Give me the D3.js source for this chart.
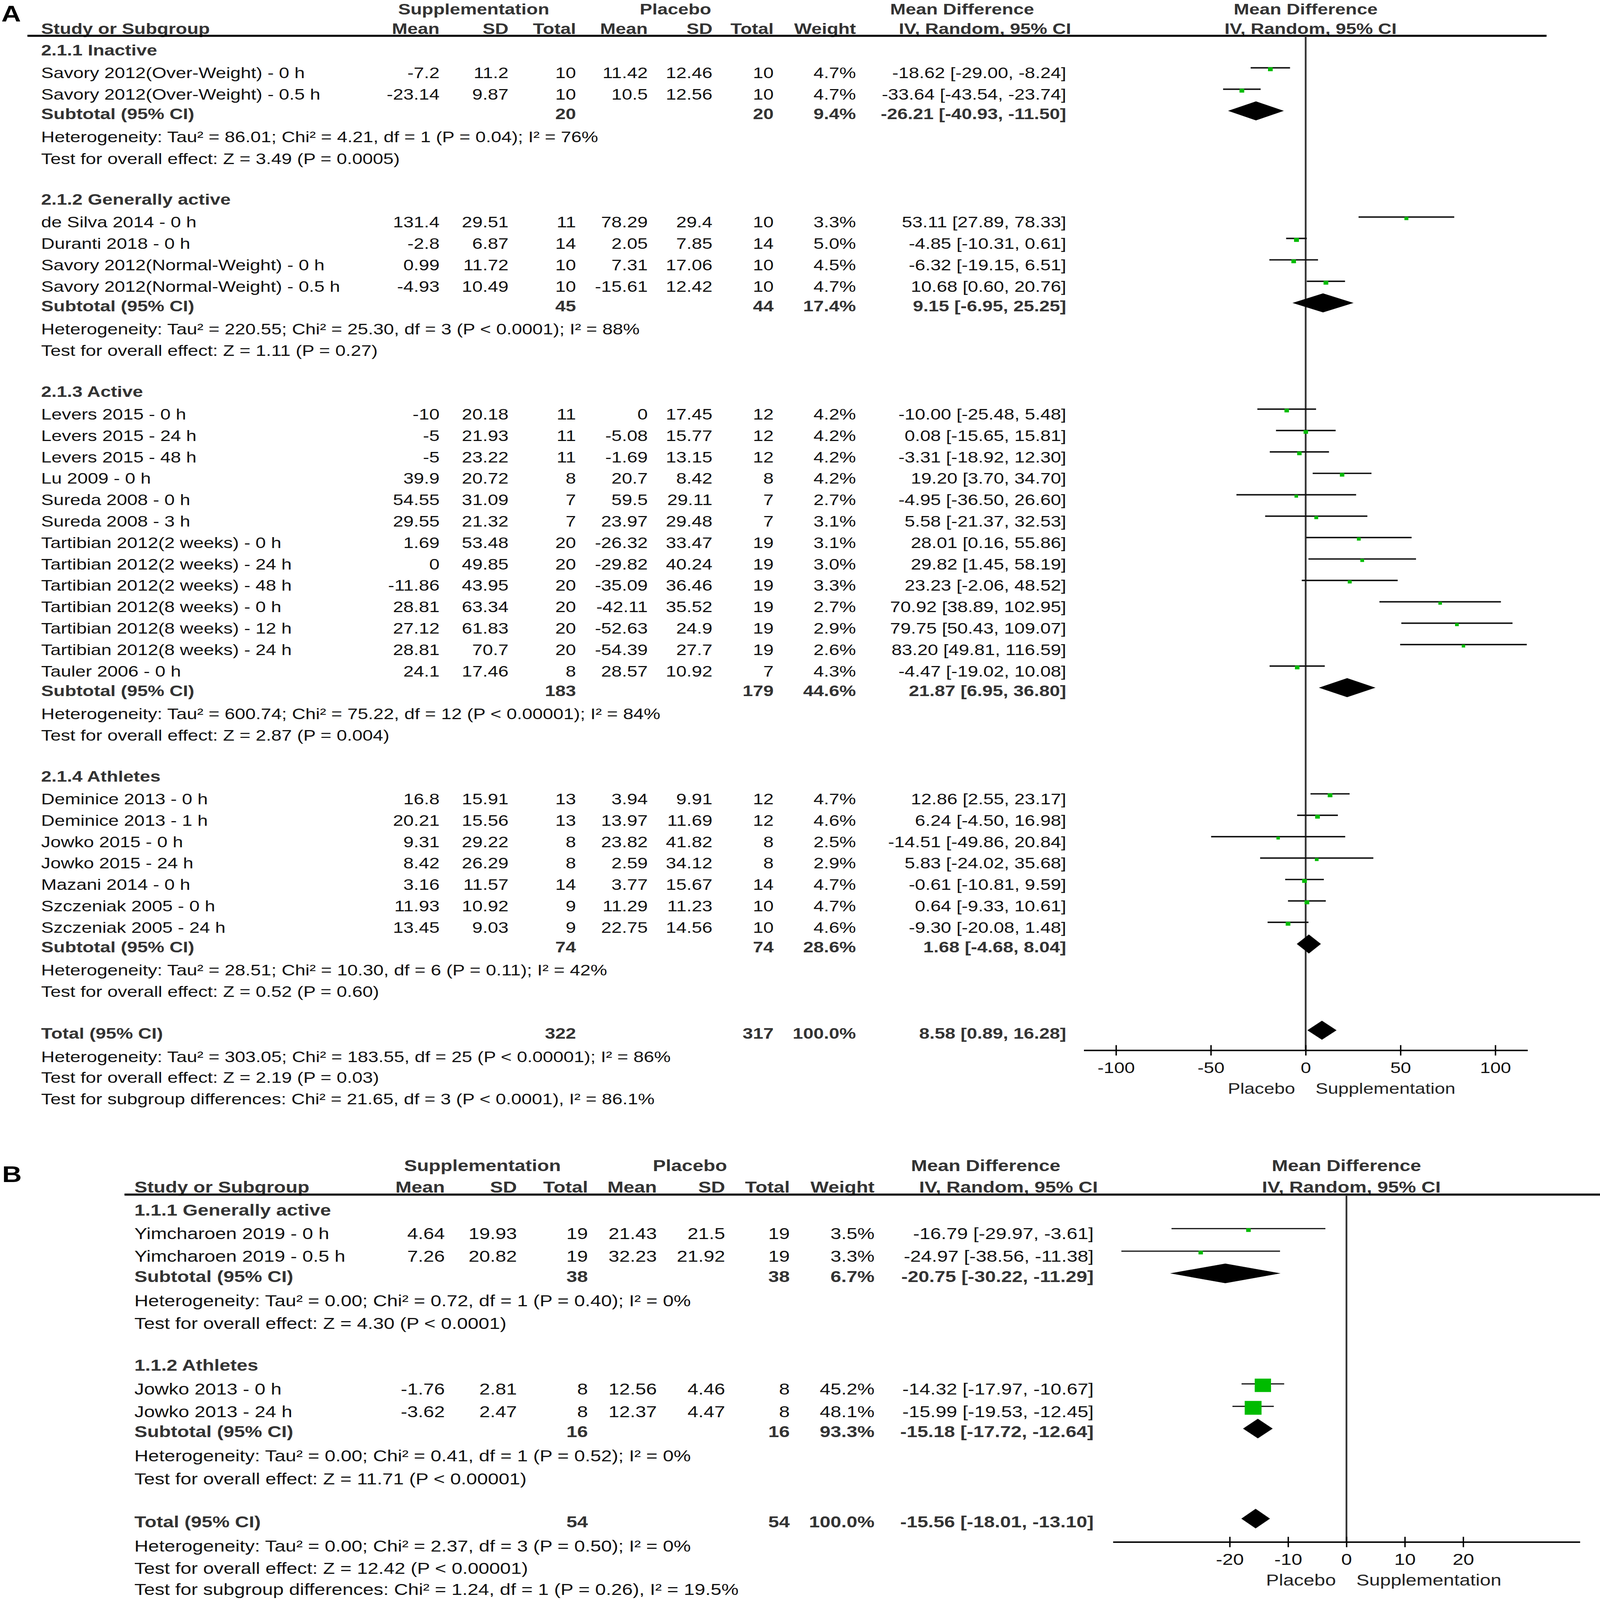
<!DOCTYPE html>
<html>
<head>
<meta charset="utf-8">
<script src="https://cdn.jsdelivr.net/npm/d3@7"></script>
<style>
  html, body { margin: 0; padding: 0; width: 100%; height: 100%; overflow: hidden; background: #fff; }
  #chart { display: block; width: 100vw; height: 100vh; }
  text { font-family: "Liberation Sans", Arial, Helvetica, sans-serif; }
</style>
</head>
<body>
<svg id="chart"></svg>
<script>
const W = 4550, H = 5545;

// ---------- Panel A data ----------
const groupsA = ['2.1.1 Inactive', '2.1.2 Generally active', '2.1.3 Active', '2.1.4 Athletes'];
const studyA = [
  'Savory 2012(Over-Weight) - 0 h', 'Savory 2012(Over-Weight) - 0.5 h',
  'de Silva 2014 - 0 h', 'Duranti 2018 - 0 h', 'Savory 2012(Normal-Weight) - 0 h', 'Savory 2012(Normal-Weight) - 0.5 h',
  'Levers 2015 - 0 h', 'Levers 2015 - 24 h', 'Levers 2015 - 48 h', 'Lu 2009 - 0 h', 'Sureda 2008 - 0 h', 'Sureda 2008 - 3 h',
  'Tartibian 2012(2 weeks) - 0 h', 'Tartibian 2012(2 weeks) - 24 h', 'Tartibian 2012(2 weeks) - 48 h',
  'Tartibian 2012(8 weeks) - 0 h', 'Tartibian 2012(8 weeks) - 12 h', 'Tartibian 2012(8 weeks) - 24 h', 'Tauler 2006 - 0 h',
  'Deminice 2013 - 0 h', 'Deminice 2013 - 1 h', 'Jowko 2015 - 0 h', 'Jowko 2015 - 24 h', 'Mazani 2014 - 0 h',
  'Szczeniak 2005 - 0 h', 'Szczeniak 2005 - 24 h'
];
const groupOfA = [0,0, 1,1,1,1, 2,2,2,2,2,2,2,2,2,2,2,2,2, 3,3,3,3,3,3,3];
const suppMeanA = [-7.2, -23.14, 131.4, -2.8, 0.99, -4.93, -10, -5, -5, 39.9, 54.55, 29.55, 1.69, 0, -11.86, 28.81, 27.12, 28.81, 24.1, 16.8, 20.21, 9.31, 8.42, 3.16, 11.93, 13.45];
const suppSdA = [11.2, 9.87, 29.51, 6.87, 11.72, 10.49, 20.18, 21.93, 23.22, 20.72, 31.09, 21.32, 53.48, 49.85, 43.95, 63.34, 61.83, 70.7, 17.46, 15.91, 15.56, 29.22, 26.29, 11.57, 10.92, 9.03];
const suppNA = [10, 10, 11, 14, 10, 10, 11, 11, 11, 8, 7, 7, 20, 20, 20, 20, 20, 20, 8, 13, 13, 8, 8, 14, 9, 9];
const placMeanA = [11.42, 10.5, 78.29, 2.05, 7.31, -15.61, 0, -5.08, -1.69, 20.7, 59.5, 23.97, -26.32, -29.82, -35.09, -42.11, -52.63, -54.39, 28.57, 3.94, 13.97, 23.82, 2.59, 3.77, 11.29, 22.75];
const placSdA = [12.46, 12.56, 29.4, 7.85, 17.06, 12.42, 17.45, 15.77, 13.15, 8.42, 29.11, 29.48, 33.47, 40.24, 36.46, 35.52, 24.9, 27.7, 10.92, 9.91, 11.69, 41.82, 34.12, 15.67, 11.23, 14.56];
const placNA = [10, 10, 10, 14, 10, 10, 12, 12, 12, 8, 7, 7, 19, 19, 19, 19, 19, 19, 7, 12, 12, 8, 8, 14, 10, 10];
const weightA = [4.7, 4.7, 3.3, 5.0, 4.5, 4.7, 4.2, 4.2, 4.2, 4.2, 2.7, 3.1, 3.1, 3.0, 3.3, 2.7, 2.9, 2.6, 4.3, 4.7, 4.6, 2.5, 2.9, 4.7, 4.7, 4.6];
const mdA = [-18.62, -33.64, 53.11, -4.85, -6.32, 10.68, -10.00, 0.08, -3.31, 19.20, -4.95, 5.58, 28.01, 29.82, 23.23, 70.92, 79.75, 83.20, -4.47, 12.86, 6.24, -14.51, 5.83, -0.61, 0.64, -9.30];
const loA = [-29.00, -43.54, 27.89, -10.31, -19.15, 0.60, -25.48, -15.65, -18.92, 3.70, -36.50, -21.37, 0.16, 1.45, -2.06, 38.89, 50.43, 49.81, -19.02, 2.55, -4.50, -49.86, -24.02, -10.81, -9.33, -20.08];
const hiA = [-8.24, -23.74, 78.33, 0.61, 6.51, 20.76, 5.48, 15.81, 12.30, 34.70, 26.60, 32.53, 55.86, 58.19, 48.52, 102.95, 109.07, 116.59, 10.08, 23.17, 16.98, 20.84, 35.68, 9.59, 10.61, 1.48];
const subNSuppA = [20, 45, 183, 74];
const subNPlacA = [20, 44, 179, 74];
const subWeightA = [9.4, 17.4, 44.6, 28.6];
const subMdA = [-26.21, 9.15, 21.87, 1.68];
const subLoA = [-40.93, -6.95, 6.95, -4.68];
const subHiA = [-11.50, 25.25, 36.80, 8.04];
const subHetA = [
  'Heterogeneity: Tau² = 86.01; Chi² = 4.21, df = 1 (P = 0.04); I² = 76%',
  'Heterogeneity: Tau² = 220.55; Chi² = 25.30, df = 3 (P < 0.0001); I² = 88%',
  'Heterogeneity: Tau² = 600.74; Chi² = 75.22, df = 12 (P < 0.00001); I² = 84%',
  'Heterogeneity: Tau² = 28.51; Chi² = 10.30, df = 6 (P = 0.11); I² = 42%'
];
const subEffectA = [
  'Test for overall effect: Z = 3.49 (P = 0.0005)',
  'Test for overall effect: Z = 1.11 (P = 0.27)',
  'Test for overall effect: Z = 2.87 (P = 0.004)',
  'Test for overall effect: Z = 0.52 (P = 0.60)'
];
const totalNA = [322, 317];
const totalCiA = [8.58, 0.89, 16.28];
const totalNotesA = [
  'Heterogeneity: Tau² = 303.05; Chi² = 183.55, df = 25 (P < 0.00001); I² = 86%',
  'Test for overall effect: Z = 2.19 (P = 0.03)',
  'Test for subgroup differences: Chi² = 21.65, df = 3 (P < 0.0001), I² = 86.1%'
];
const ticksA = [-100, -50, 0, 50, 100];

// ---------- Panel B data ----------
const groupsB = ['1.1.1 Generally active', '1.1.2 Athletes'];
const studyB = ['Yimcharoen 2019 - 0 h', 'Yimcharoen 2019 - 0.5 h', 'Jowko 2013 - 0 h', 'Jowko 2013 - 24 h'];
const groupOfB = [0, 0, 1, 1];
const suppMeanB = [4.64, 7.26, -1.76, -3.62];
const suppSdB = [19.93, 20.82, 2.81, 2.47];
const suppNB = [19, 19, 8, 8];
const placMeanB = [21.43, 32.23, 12.56, 12.37];
const placSdB = [21.5, 21.92, 4.46, 4.47];
const placNB = [19, 19, 8, 8];
const weightB = [3.5, 3.3, 45.2, 48.1];
const mdB = [-16.79, -24.97, -14.32, -15.99];
const loB = [-29.97, -38.56, -17.97, -19.53];
const hiB = [-3.61, -11.38, -10.67, -12.45];
const subNSuppB = [38, 16];
const subNPlacB = [38, 16];
const subWeightB = [6.7, 93.3];
const subMdB = [-20.75, -15.18];
const subLoB = [-30.22, -17.72];
const subHiB = [-11.29, -12.64];
const subHetB = [
  'Heterogeneity: Tau² = 0.00; Chi² = 0.72, df = 1 (P = 0.40); I² = 0%',
  'Heterogeneity: Tau² = 0.00; Chi² = 0.41, df = 1 (P = 0.52); I² = 0%'
];
const subEffectB = [
  'Test for overall effect: Z = 4.30 (P < 0.0001)',
  'Test for overall effect: Z = 11.71 (P < 0.00001)'
];
const totalNB = [54, 54];
const totalCiB = [-15.56, -18.01, -13.10];
const totalNotesB = [
  'Heterogeneity: Tau² = 0.00; Chi² = 2.37, df = 3 (P = 0.50); I² = 0%',
  'Test for overall effect: Z = 12.42 (P < 0.00001)',
  'Test for subgroup differences: Chi² = 1.24, df = 1 (P = 0.26), I² = 19.5%'
];
const ticksB = [-20, -10, 0, 10, 20];

const colHeads = ['Mean', 'SD', 'Total', 'Mean', 'SD', 'Total', 'Weight'];

// the drawing is laid out in 4550x5545 units and scaled to whatever the window is
const svg = d3.select('#chart')
  .attr('viewBox', `0 0 ${W} ${H}`)
  .attr('preserveAspectRatio', 'none');

const ci = (m, l, h) => `${m.toFixed(2)} [${l.toFixed(2)}, ${h.toFixed(2)}]`;

function drawPanel(d, L) {
  const g = svg.append('g');
  const fs = L.fs;
  const base = fs * 0.36;
  const x = d3.scaleLinear().domain(L.domain).range(L.range);

  // panel letter
  g.append('text').attr('x', L.letter[0]).attr('y', L.letter[1])
    .attr('font-size', 77).attr('font-weight', 'bold').attr('fill', '#000').text(L.name);

  // header rows
  const head = (t, xx, yy, anchor) => g.append('text').attr('x', xx).attr('y', yy)
    .attr('text-anchor', anchor).attr('font-size', fs).attr('font-weight', 'bold')
    .attr('fill', '#333').text(t);
  head('Supplementation', L.head1[0], L.head1Y, 'middle');
  head('Placebo', L.head1[1], L.head1Y, 'middle');
  head('Mean Difference', L.head1[2], L.head1Y, 'middle');
  head('Mean Difference', x(0), L.head1Y, 'middle');
  head('Study or Subgroup', L.left, L.head2Y, 'start');
  colHeads.forEach((t, i) => head(t, L.cols[i], L.head2Y, 'end'));
  head('IV, Random, 95% CI', L.ivCol, L.head2Y, 'middle');
  head('IV, Random, 95% CI', x(0) + 14, L.head2Y, 'middle');

  g.append('line').attr('x1', L.rule[0]).attr('x2', L.rule[1])
    .attr('y1', L.ruleY).attr('y2', L.ruleY).attr('stroke', '#000').attr('stroke-width', 7);

  // build row layout
  const G = L.gap;
  const rows = [];
  let y = L.firstY;
  d.groups.forEach((name, gi) => {
    if (gi > 0) y += G.test2head;
    rows.push({type: 'group', y, text: name});
    const idx = d.study.map((s, i) => i).filter(i => d.groupOf[i] === gi);
    idx.forEach((i, k) => {
      y += k === 0 ? G.head2study : G.pitch;
      rows.push({type: 'study', y, i});
    });
    y += G.study2sub; rows.push({type: 'sub', y, gi});
    y += G.sub2het; rows.push({type: 'note', y, text: d.subHet[gi]});
    y += G.het2test; rows.push({type: 'note', y, text: d.subEffect[gi]});
  });
  y += G.test2total; rows.push({type: 'total', y});
  y += G.total2het; rows.push({type: 'note', y, text: d.totalNotes[0]});
  y += G.het2eff; rows.push({type: 'note', y, text: d.totalNotes[1]});
  y += G.eff2sub; rows.push({type: 'note', y, text: d.totalNotes[2]});

  // zero line
  g.append('line').attr('x1', x(0)).attr('x2', x(0))
    .attr('y1', L.ruleY).attr('y2', L.axisY).attr('stroke', '#333').attr('stroke-width', 5);

  const txt = (t, xx, yy, anchor, bold) => g.append('text').attr('x', xx).attr('y', yy + base)
    .attr('text-anchor', anchor).attr('font-size', fs)
    .attr('font-weight', bold ? 'bold' : 'normal').attr('fill', bold ? '#333' : '#111').text(t);

  const diamond = (m, l, h, cy) => g.append('path')
    .attr('d', `M${x(l)},${cy}L${x(m)},${cy - L.dh}L${x(h)},${cy}L${x(m)},${cy + L.dh}Z`)
    .attr('fill', '#000');

  rows.forEach(r => {
    if (r.type === 'group') {
      txt(r.text, L.left, r.y, 'start', true);
    } else if (r.type === 'note') {
      txt(r.text, L.left, r.y, 'start', false);
    } else if (r.type === 'study') {
      const i = r.i;
      txt(d.study[i], L.left, r.y, 'start', false);
      const vals = [String(d.suppMean[i]), String(d.suppSd[i]), String(d.suppN[i]),
        String(d.placMean[i]), String(d.placSd[i]), String(d.placN[i]),
        d.weight[i].toFixed(1) + '%', ci(d.md[i], d.lo[i], d.hi[i])];
      vals.forEach((v, c) => txt(v, L.cols[c], r.y, 'end', false));
      g.append('line').attr('x1', x(d.lo[i])).attr('x2', x(d.hi[i]))
        .attr('y1', r.y - 17).attr('y2', r.y - 17)
        .attr('stroke', '#111').attr('stroke-width', L.ciW);
      const s = L.sqK * Math.sqrt(d.weight[i]);
      g.append('rect').attr('x', x(d.md[i]) - s / 2).attr('y', r.y - 12 - s / 2)
        .attr('width', s).attr('height', s).attr('fill', '#00bb00');
    } else if (r.type === 'sub') {
      const gi = r.gi;
      txt('Subtotal (95% CI)', L.left, r.y, 'start', true);
      txt(String(d.subNSupp[gi]), L.cols[2], r.y, 'end', true);
      txt(String(d.subNPlac[gi]), L.cols[5], r.y, 'end', true);
      txt(d.subWeight[gi].toFixed(1) + '%', L.cols[6], r.y, 'end', true);
      txt(ci(d.subMd[gi], d.subLo[gi], d.subHi[gi]), L.cols[7], r.y, 'end', true);
      diamond(d.subMd[gi], d.subLo[gi], d.subHi[gi], r.y - 10);
    } else if (r.type === 'total') {
      txt('Total (95% CI)', L.left, r.y, 'start', true);
      txt(String(d.totalN[0]), L.cols[2], r.y, 'end', true);
      txt(String(d.totalN[1]), L.cols[5], r.y, 'end', true);
      txt('100.0%', L.cols[6], r.y, 'end', true);
      txt(ci(d.totalCi[0], d.totalCi[1], d.totalCi[2]), L.cols[7], r.y, 'end', true);
      diamond(d.totalCi[0], d.totalCi[1], d.totalCi[2], r.y - 10);
    }
  });

  // x axis
  const axis = d3.axisBottom(x).tickValues(d.ticks).tickSizeInner(18).tickSizeOuter(0)
    .tickPadding(0).tickFormat(v => String(v));
  const ax = g.append('g').attr('transform', `translate(0,${L.axisY})`).call(axis);
  ax.select('.domain').attr('stroke', '#000').attr('stroke-width', 5);
  ax.selectAll('.tick line').attr('y1', -18).attr('y2', 18).attr('stroke', '#000').attr('stroke-width', 4);
  ax.selectAll('.tick text').attr('y', 60 + base).attr('dy', null)
    .attr('font-size', fs).attr('fill', '#111')
    .style('font-family', '"Liberation Sans", Arial, Helvetica, sans-serif');

  g.append('text').attr('x', x(0) - 30).attr('y', L.axisY + 131 + base)
    .attr('text-anchor', 'end').attr('font-size', fs).attr('fill', '#222').text('Placebo');
  g.append('text').attr('x', x(0) + 28).attr('y', L.axisY + 131 + base)
    .attr('text-anchor', 'start').attr('font-size', fs).attr('fill', '#222').text('Supplementation');
}

drawPanel({
  groups: groupsA, study: studyA, groupOf: groupOfA,
  suppMean: suppMeanA, suppSd: suppSdA, suppN: suppNA,
  placMean: placMeanA, placSd: placSdA, placN: placNA,
  weight: weightA, md: mdA, lo: loA, hi: hiA,
  subNSupp: subNSuppA, subNPlac: subNPlacA, subWeight: subWeightA,
  subMd: subMdA, subLo: subLoA, subHi: subHiA,
  subHet: subHetA, subEffect: subEffectA,
  totalN: totalNA, totalCi: totalCiA, totalNotes: totalNotesA, ticks: ticksA
}, {
  name: 'A', letter: [4, 74], fs: 53,
  head1Y: 50, head2Y: 118, head1: [1347, 1921, 2736],
  left: 117, cols: [1250, 1446, 1638, 1842, 2026, 2200, 2434, 3032], ivCol: 2801,
  rule: [78, 4398], ruleY: 124,
  domain: [-117, 117], range: [3082, 4344], axisY: 3640,
  firstY: 173,
  gap: {head2study: 79, pitch: 74.2, study2sub: 68, sub2het: 80, het2test: 75, test2head: 141,
        test2total: 144, total2het: 82, het2eff: 71, eff2sub: 75},
  sqK: 6.2, ciW: 5, dh: 33
});

drawPanel({
  groups: groupsB, study: studyB, groupOf: groupOfB,
  suppMean: suppMeanB, suppSd: suppSdB, suppN: suppNB,
  placMean: placMeanB, placSd: placSdB, placN: placNB,
  weight: weightB, md: mdB, lo: loB, hi: hiB,
  subNSupp: subNSuppB, subNPlac: subNPlacB, subWeight: subWeightB,
  subMd: subMdB, subLo: subLoB, subHi: subHiB,
  subHet: subHetB, subEffect: subEffectB,
  totalN: totalNB, totalCi: totalCiB, totalNotes: totalNotesB, ticks: ticksB
}, {
  name: 'B', letter: [6, 4097], fs: 55,
  head1Y: 4058, head2Y: 4133, head1: [1372, 1962, 2803],
  left: 382, cols: [1265, 1470, 1672, 1868, 2062, 2246, 2487, 3110], ivCol: 2868,
  rule: [354, 4550], ruleY: 4140,
  domain: [-40, 40], range: [3165, 4493], axisY: 5344,
  firstY: 4193,
  gap: {head2study: 82, pitch: 78, study2sub: 70, sub2het: 84, het2test: 79, test2head: 145,
        test2total: 149, total2het: 85, het2eff: 77, eff2sub: 72},
  sqK: 6.9, ciW: 4, dh: 34
});
</script>
</body>
</html>
